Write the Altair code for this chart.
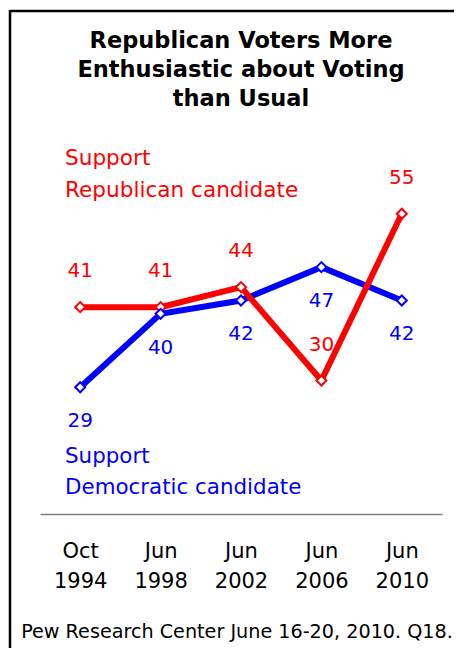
import altair as alt
import pandas as pd

# ---- data ----
periods = ["Oct 1994", "Jun 1998", "Jun 2002", "Jun 2006", "Jun 2010"]
rep_values = [41, 41, 44, 30, 55]
dem_values = [29, 40, 42, 47, 42]

title_text = "Republican Voters More\nEnthusiastic about Voting\nthan Usual"
rep_label = "Support\nRepublican candidate"
dem_label = "Support\nDemocratic candidate"
source_note = "Pew Research Center June 16-20, 2010. Q18."

FONT = "DejaVu Sans"
RED = "#FF0000"
BLUE = "#0000FF"

rep_df = pd.DataFrame({"period": periods, "value": rep_values, "series": "Republican"})
dem_df = pd.DataFrame({"period": periods, "value": dem_values, "series": "Democratic"})
one = pd.DataFrame({"a": [0]})

x_enc = alt.X(
    "period:N",
    sort=periods,
    scale=alt.Scale(type="point", padding=0.5),
    axis=alt.Axis(
        title=None,
        ticks=False,
        grid=False,
        domainColor="#808080",
        domainWidth=1.5,
        labelAngle=0,
        labelFont=FONT,
        labelFontSize=21,
        labelColor="black",
        labelLineHeight=30,
        labelPadding=26,
        labelExpr="split(datum.label, ' ')",
    ),
)
y_enc = alt.Y("value:Q", scale=alt.Scale(domain=[10, 65]), axis=None)


def series_layers(df, color, dy):
    base = alt.Chart(df).encode(x=x_enc, y=y_enc)
    line = base.mark_line(color=color, strokeWidth=6, strokeJoin="miter")
    pts = base.mark_point(shape="diamond", filled=True, fill="white", stroke=color,
                          strokeWidth=2, size=100, opacity=1)
    lbl = base.mark_text(color=color, font=FONT, fontSize=20, baseline="middle",
                         align="center", dy=dy).encode(text="value:Q")
    return line, pts, lbl


r_line, r_pts, r_lbl = series_layers(rep_df, RED, -36)
d_line, d_pts, d_lbl = series_layers(dem_df, BLUE, 34)

title = alt.Chart(one).mark_text(
    text=title_text, lineBreak="\n", color="black", font=FONT, fontSize=22.5,
    fontWeight="bold", align="center", baseline="alphabetic", lineHeight=29
).encode(x=alt.value(201), y=alt.value(-99))

rep_legend = alt.Chart(one).mark_text(
    text=rep_label, lineBreak="\n", color=RED, font=FONT, fontSize=21.6,
    align="left", baseline="alphabetic", lineHeight=31.5
).encode(x=alt.value(25), y=alt.value(18))

dem_legend = alt.Chart(one).mark_text(
    text=dem_label, lineBreak="\n", color=BLUE, font=FONT, fontSize=21.4,
    align="left", baseline="alphabetic", lineHeight=31
).encode(x=alt.value(25), y=alt.value(316))

footer = alt.Chart(one).mark_text(
    text=source_note, color="black", font=FONT, fontSize=19.2,
    align="center", baseline="alphabetic"
).encode(x=alt.value(197), y=alt.value(491))

frame_top = alt.Chart(one).mark_rule(color="black", strokeWidth=2.5).encode(
    x=alt.value(-30), x2=alt.value(422), y=alt.value(-136))
frame_left = alt.Chart(one).mark_rule(color="black", strokeWidth=2.5).encode(
    x=alt.value(-30), y=alt.value(-137), y2=alt.value(509))

chart = alt.layer(
    frame_top, frame_left, title,
    d_line, r_line, r_pts, d_pts, r_lbl, d_lbl,
    rep_legend, dem_legend, footer,
).properties(
    width=402,
    height=367,
    background="white",
    autosize=alt.AutoSizeParams(type="none"),
    padding={"left": 32, "top": 139, "right": 12, "bottom": 134},
).configure_view(stroke=None, strokeWidth=0)

chart.save("out.html", embed_options={"renderer": "svg", "actions": False})
